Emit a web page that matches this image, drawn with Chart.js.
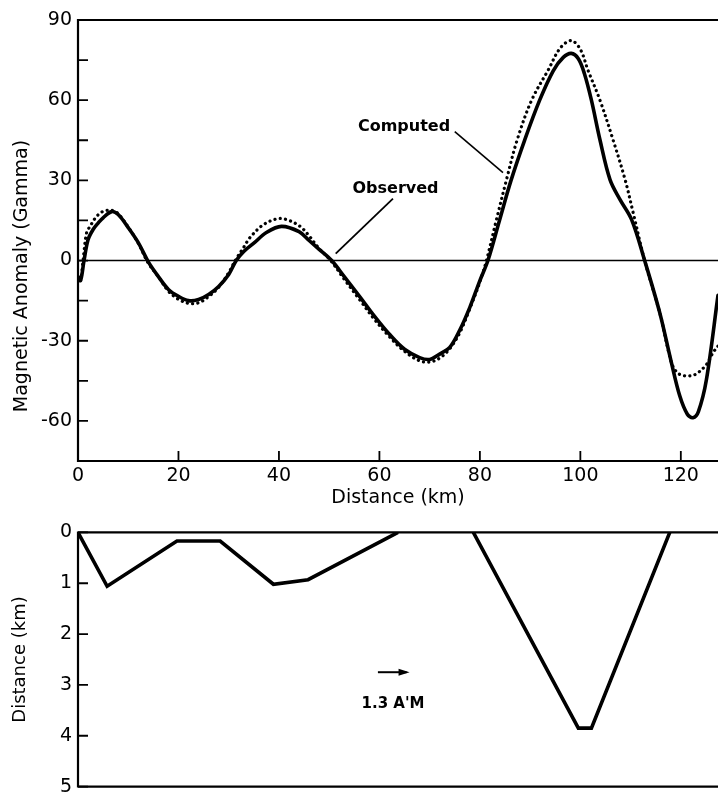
<!DOCTYPE html>
<html>
<head>
<meta charset="utf-8">
<script src="https://cdn.jsdelivr.net/npm/chart.js@4/dist/chart.umd.min.js"></script>
<style>
html,body{margin:0;padding:0;background:#fff;}
#wrap{position:relative;width:718px;height:804px;overflow:hidden;}
.box{position:absolute;left:0;width:718px;}
</style>
</head>
<body>
<div id="wrap">
  <div class="box" style="top:0;height:515px"><canvas id="topChart"></canvas></div>
  <div class="box" style="top:515px;height:289px"><canvas id="bottomChart"></canvas></div>
</div>
<script>
// ---------- data ----------
const observedDistance = [0, 0.5, 1.2, 2, 3, 4, 5, 6.7, 8, 10, 12, 14, 16, 18, 20, 22, 24, 26, 28, 30, 31.5, 33, 35, 37.5, 40.5, 44, 46, 48, 50.5, 53, 56, 59, 62, 65, 68, 70, 72, 74, 76, 78, 80, 81.6, 83.9, 86.2, 88.9, 91.9, 94.6, 96.6, 98.2, 99.6, 100.8, 102.2, 103.9, 105.9, 107.9, 110.2, 112.8, 115.8, 118.1, 119.8, 121.3, 122.4, 123.5, 125.1, 127.4];
const observedGamma    = [-6, -7.5, 0, 7.8, 11.6, 14, 16, 18.3, 17.2, 12.3, 6.7, -0.5, -6, -10.8, -13.4, -15, -14.6, -12.7, -9.7, -5.2, 0, 3.4, 6.5, 10.5, 12.8, 10.8, 7.5, 4.2, 0, -6, -13.3, -20.8, -27.6, -33.2, -36.3, -37, -35, -32.5, -26, -17.5, -7.5, 0, 15, 30, 45, 60, 71, 76, 77.5, 75.5, 70, 60, 45.2, 30.3, 22.8, 15.3, 0, -19.5, -38, -50.7, -57.5, -58.8, -56.5, -44.5, -13];

const computedDistance = [0, 0.5, 1.0, 1.7, 2.4, 3.7, 5, 6.7, 8, 10, 12, 14, 16, 18, 20, 22, 24, 26, 28, 30, 31.3, 33, 34.2, 36.9, 39.9, 42, 44.2, 45.8, 48, 50.3, 53, 56, 59, 62, 65, 68, 70, 72, 74, 76, 78, 80, 81.3, 83.3, 85.3, 87.4, 90.3, 93.6, 96, 98.2, 100, 101.5, 103.9, 106.5, 108.9, 110.5, 112.8, 115.8, 118.1, 119.3, 120.5, 121.5, 123, 125.1, 126.4, 127.4];
const computedGamma    = [-6, -7.5, 0, 10.3, 12.8, 16.5, 18.4, 18.8, 17.5, 12.5, 6.5, -1, -6, -11.5, -14.5, -16, -15.8, -13.5, -10, -4.5, 0, 5, 8.5, 13.4, 15.7, 15, 12.8, 9.7, 4.5, 0, -7, -14.5, -22, -28.5, -34, -37.5, -38, -36.5, -33, -27, -18, -8, 0, 15.3, 30.3, 45, 60, 71.3, 79.5, 82.3, 79, 71.3, 60, 45.2, 30.3, 18, 0, -19.5, -38, -42, -43, -43.2, -42.5, -38.9, -34.5, -32];

const westBodyDistance = [0, 5.8, 19.7, 28.3, 38.9, 45.8, 63.7];
const westBodyDepth    = [0, 1.06, 0.17, 0.17, 1.02, 0.93, 0];
const eastBodyDistance = [78.7, 99.6, 102.2, 117.8];
const eastBodyDepth    = [0, 3.85, 3.85, 0];

const distanceRange = [0, 127.4];
const distanceTickStep = 20;
const anomalyRange = [-75, 90];
const anomalyTickStep = 15;
const anomalyLabelStep = 30;
const depthRange = [0, 5];
const depthTickStep = 1;

// ---------- helpers ----------
const FONT = '"DejaVu Sans", "Liberation Sans", sans-serif';
const pairs = (xs, ys) => xs.map((x, i) => ({x, y: ys[i]}));

const frameTicks = {
  id: 'frameTicks',
  afterDatasetsDraw(chart, args, opts) {
    const {ctx, chartArea: a, scales} = chart;
    ctx.save();
    ctx.strokeStyle = '#000';
    ctx.lineCap = 'butt';
    ctx.lineWidth = 2.2;
    ctx.beginPath();
    ctx.moveTo(a.left, a.top); ctx.lineTo(a.right, a.top);
    ctx.moveTo(a.left, a.top - 1); ctx.lineTo(a.left, a.bottom + 1);
    ctx.moveTo(a.left, a.bottom); ctx.lineTo(a.right, a.bottom);
    ctx.stroke();
    ctx.lineWidth = 1.8;
    ctx.beginPath();
    scales.y.ticks.forEach(t => {
      const py = scales.y.getPixelForValue(t.value);
      ctx.moveTo(a.left, py); ctx.lineTo(a.left + opts.yLen, py);
    });
    if (opts.xLen) {
      scales.x.ticks.forEach(t => {
        const px = scales.x.getPixelForValue(t.value);
        ctx.moveTo(px, a.bottom); ctx.lineTo(px, a.bottom - opts.xLen);
      });
    }
    ctx.stroke();
    ctx.restore();
  }
};

const zeroLine = {
  id: 'zeroLine',
  beforeDatasetsDraw(chart, args, opts) {
    if (!opts.show) return;
    const {ctx, chartArea: a, scales: {y}} = chart;
    const py = y.getPixelForValue(0);
    ctx.save();
    ctx.strokeStyle = '#000';
    ctx.lineWidth = 1.4;
    ctx.beginPath();
    ctx.moveTo(a.left, py); ctx.lineTo(a.right, py);
    ctx.stroke();
    ctx.restore();
  }
};

const notes = {
  id: 'notes',
  afterDatasetsDraw(chart, args, opts) {
    const {ctx, scales: {x, y}} = chart;
    ctx.save();
    ctx.strokeStyle = '#000';
    ctx.fillStyle = '#000';
    (opts.lines || []).forEach(l => {
      ctx.lineWidth = l.width;
      ctx.beginPath();
      ctx.moveTo(x.getPixelForValue(l.from[0]), y.getPixelForValue(l.from[1]));
      ctx.lineTo(x.getPixelForValue(l.to[0]), y.getPixelForValue(l.to[1]));
      ctx.stroke();
      if (l.head) {
        const x2 = x.getPixelForValue(l.to[0]), y2 = y.getPixelForValue(l.to[1]);
        const x1 = x.getPixelForValue(l.from[0]), y1 = y.getPixelForValue(l.from[1]);
        const ang = Math.atan2(y2 - y1, x2 - x1);
        ctx.beginPath();
        ctx.moveTo(x2 + 3 * Math.cos(ang), y2 + 3 * Math.sin(ang));
        ctx.lineTo(x2 - 8 * Math.cos(ang) + 3.5 * Math.sin(ang), y2 - 8 * Math.sin(ang) - 3.5 * Math.cos(ang));
        ctx.lineTo(x2 - 8 * Math.cos(ang) - 3.5 * Math.sin(ang), y2 - 8 * Math.sin(ang) + 3.5 * Math.cos(ang));
        ctx.closePath();
        ctx.fill();
      }
    });
    (opts.texts || []).forEach(t => {
      ctx.font = t.font;
      ctx.textAlign = 'center';
      ctx.textBaseline = 'middle';
      ctx.fillText(t.text, x.getPixelForValue(t.at[0]), y.getPixelForValue(t.at[1]));
    });
    if (opts.yTitle) {
      const tt = opts.yTitle;
      ctx.translate(tt.x, y.getPixelForValue(tt.centerValue));
      ctx.rotate(-Math.PI / 2);
      ctx.font = tt.font;
      ctx.textAlign = 'center';
      ctx.textBaseline = 'middle';
      ctx.fillText(tt.text, 0, 0);
    }
    ctx.restore();
  }
};

Chart.register(frameTicks, zeroLine, notes);

const tickFont = {family: FONT, size: 19};

// ---------- top chart ----------
new Chart(document.getElementById('topChart'), {
  type: 'line',
  data: {
    datasets: [
      {
        label: 'Observed',
        data: pairs(observedDistance, observedGamma),
        borderColor: '#000',
        borderWidth: 3.6,
        pointRadius: 0,
        tension: 0.35,
        borderCapStyle: 'round',
        borderJoinStyle: 'round'
      },
      {
        label: 'Computed',
        data: pairs(computedDistance, computedGamma),
        borderColor: '#000',
        borderWidth: 3.2,
        borderDash: [0.1, 5.2],
        borderCapStyle: 'round',
        pointRadius: 0,
        tension: 0.35
      }
    ]
  },
  options: {
    responsive: true,
    maintainAspectRatio: false,
    animation: false,
    layout: {padding: {top: 20, left: 0, right: 0, bottom: 0}},
    plugins: {
      legend: {display: false},
      tooltip: {enabled: false},
      frameTicks: {yLen: 10, xLen: 10},
      zeroLine: {show: true},
      notes: {
        texts: [
          {text: 'Computed', at: [64.9, 50], font: 'bold 16px ' + FONT},
          {text: 'Observed', at: [63.2, 26.9], font: 'bold 16px ' + FONT}
        ],
        lines: [
          {from: [75.0, 48.2], to: [84.6, 32.9], width: 1.6},
          {from: [62.7, 23.2], to: [51.3, 2.6], width: 1.8}
        ],
        yTitle: {text: 'Magnetic Anomaly (Gamma)', x: 22, centerValue: -5.8, font: '19px ' + FONT}
      }
    },
    scales: {
      x: {
        type: 'linear',
        min: distanceRange[0], max: distanceRange[1],
        border: {display: false},
        grid: {display: false, drawTicks: false},
        ticks: {stepSize: distanceTickStep, includeBounds: false, padding: 4, color: '#000', font: tickFont, maxRotation: 0, autoSkip: false},
        title: {display: true, text: 'Distance (km)', color: '#000', font: {family: FONT, size: 19}, padding: {top: 0, bottom: 6}},
        afterFit(s) { s.height = 54; }
      },
      y: {
        type: 'linear',
        min: anomalyRange[0], max: anomalyRange[1],
        border: {display: false},
        grid: {display: false, drawTicks: false},
        ticks: {
          stepSize: anomalyTickStep, padding: 6, color: '#000', font: tickFont, autoSkip: false,
          callback: v => (v % anomalyLabelStep === 0 ? String(v) : '')
        },
        afterFit(s) { s.width = 78; }
      }
    }
  }
});

// ---------- bottom chart ----------
new Chart(document.getElementById('bottomChart'), {
  type: 'line',
  data: {
    datasets: [
      {
        label: 'Body west',
        data: pairs(westBodyDistance, westBodyDepth),
        borderColor: '#000',
        borderWidth: 3.6,
        pointRadius: 0,
        tension: 0,
        borderJoinStyle: 'miter'
      },
      {
        label: 'Body east',
        data: pairs(eastBodyDistance, eastBodyDepth),
        borderColor: '#000',
        borderWidth: 3.6,
        pointRadius: 0,
        tension: 0,
        borderJoinStyle: 'miter'
      }
    ]
  },
  options: {
    responsive: true,
    maintainAspectRatio: false,
    animation: false,
    layout: {padding: {top: 15, left: 0, right: 0, bottom: 9}},
    plugins: {
      legend: {display: false},
      tooltip: {enabled: false},
      frameTicks: {yLen: 10, xLen: 0},
      zeroLine: {show: false},
      notes: {
        texts: [
          {text: "1.3 A'M", at: [62.7, 3.38], font: 'bold 15px ' + FONT}
        ],
        lines: [
          {from: [59.7, 2.75], to: [65.4, 2.75], width: 2, head: true}
        ]
      }
    },
    scales: {
      x: {
        type: 'linear',
        min: distanceRange[0], max: distanceRange[1],
        border: {display: false},
        grid: {display: false, drawTicks: false},
        ticks: {display: false, stepSize: distanceTickStep},
        afterFit(s) { s.height = 0; }
      },
      y: {
        type: 'linear',
        min: depthRange[0], max: depthRange[1],
        reverse: true,
        border: {display: false},
        grid: {display: false, drawTicks: false},
        ticks: {stepSize: depthTickStep, padding: 6, color: '#000', font: tickFont, autoSkip: false},
        title: {display: true, text: 'Distance (km)', color: '#000', font: {family: FONT, size: 18}, padding: {top: 10, bottom: 0}},
        afterFit(s) { s.width = 78; }
      }
    }
  }
});
</script>
</body>
</html>
